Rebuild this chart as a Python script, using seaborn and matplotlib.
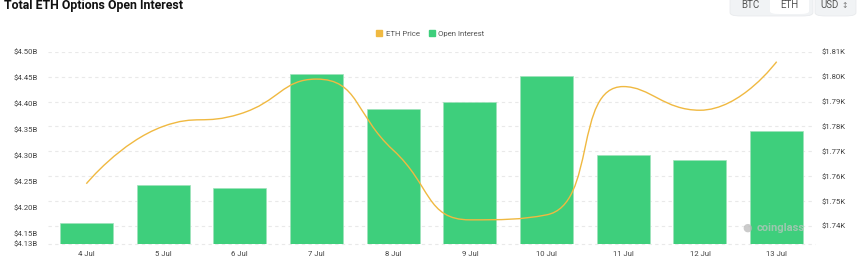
import numpy as np
import pandas as pd
import seaborn as sns
import matplotlib.pyplot as plt
from matplotlib.path import Path
from matplotlib.patches import PathPatch, Patch, FancyBboxPatch

# data
dates = ['4 Jul', '5 Jul', '6 Jul', '7 Jul', '8 Jul', '9 Jul', '10 Jul', '11 Jul', '12 Jul', '13 Jul']
open_interest_b = [4.170, 4.243, 4.238, 4.457, 4.389, 4.403, 4.454, 4.302, 4.291, 4.347]
eth_price = [1757, 1780, 1785, 1799, 1770.5, 1742.5, 1744.5, 1796, 1786.5, 1806]
left_ticks = [4.13, 4.15, 4.20, 4.25, 4.30, 4.35, 4.40, 4.45, 4.50]
right_ticks = [1740, 1750, 1760, 1770, 1780, 1790, 1800, 1810]

GREEN = '#3ecf7c'
ORANGE = '#f0b941'
TXT = '#444444'

sns.set_style('white')
plt.rcParams['font.family'] = ['Roboto', 'DejaVu Sans']

W, H = 860, 271
fig = plt.figure(figsize=(W / 100, H / 100), dpi=100)
x0, x1, y0, y1 = 48, 815, 51.7, 244
rect = [x0 / W, 1 - y1 / H, (x1 - x0) / W, (y1 - y0) / H]
ax = fig.add_axes(rect)
ax2 = ax.twinx()
ax.set_zorder(ax2.get_zorder() + 1)
ax.patch.set_visible(False)

df = pd.DataFrame({'date': dates, 'oi': open_interest_b})
sns.barplot(data=df, x='date', y='oi', color=GREEN, saturation=1, width=0.69,
            edgecolor='#9fe3bb', linewidth=0.5, ax=ax)

ax.set_ylim(4.13, 4.50)
ax.set_yticks(left_ticks)
ax.set_yticklabels([f'${t:.2f}B' for t in left_ticks])
ax.set_xlabel('')
ax.set_ylabel('')

ax2.set_ylim(1732.8, 1810)
ax2.set_yticks(right_ticks)
ax2.set_yticklabels([f'${t / 1000:.2f}K' for t in right_ticks])
ax2.yaxis.grid(True, linestyle=(0, (3, 3)), color='#e9e9e9', linewidth=0.8)
ax2.axhline(1732.8, linestyle=(0, (3, 3)), color='#e9e9e9', linewidth=0.8, clip_on=False)

for a in (ax, ax2):
    for s in a.spines.values():
        s.set_visible(False)
    a.tick_params(length=0, labelsize=5.6, colors=TXT)
ax.tick_params(axis='y', pad=7)
ax.tick_params(axis='x', pad=5)
ax2.tick_params(axis='y', pad=5)

# smooth price line: bezier with echarts-style clamped control points (pixel space)
pts = ax2.transData.transform(np.column_stack([np.arange(len(eth_price)), eth_price]))
smooth = 0.5
verts = [tuple(pts[0])]
codes = [Path.MOVETO]
cp0 = pts[0].copy()
for i in range(1, len(pts)):
    x, y = pts[i]
    px, py = pts[i - 1]
    if i == len(pts) - 1:
        cp1 = np.array([x, y])
        nxt_cp = None
    else:
        nx, ny = pts[i + 1]
        vx, vy = nx - px, ny - py
        lp = np.hypot(x - px, y - py)
        ln = np.hypot(nx - x, ny - y)
        r = ln / (ln + lp)
        ncx = x + vx * smooth * r
        ncy = y + vy * smooth * r
        ncx = min(max(ncx, min(nx, x)), max(nx, x))
        ncy = min(max(ncy, min(ny, y)), max(ny, y))
        vx, vy = ncx - x, ncy - y
        c1x = x - vx * lp / ln
        c1y = y - vy * lp / ln
        c1x = min(max(c1x, min(px, x)), max(px, x))
        c1y = min(max(c1y, min(py, y)), max(py, y))
        vx, vy = x - c1x, y - c1y
        nxt_cp = np.array([x + vx * ln / lp, y + vy * ln / lp])
        cp1 = np.array([c1x, c1y])
    verts += [tuple(cp0), tuple(cp1), (x, y)]
    codes += [Path.CURVE4] * 3
    cp0 = nxt_cp
verts = ax2.transData.inverted().transform(np.array(verts))
line = PathPatch(Path(verts, codes), facecolor='none', edgecolor=ORANGE,
                 linewidth=1.0, transform=ax2.transData, zorder=5)
ax.add_patch(line)

# legend
fig.legend(handles=[Patch(color=ORANGE, label='ETH Price'), Patch(color=GREEN, label='Open Interest')],
           loc='center', bbox_to_anchor=(430.5 / W, 1 - 33.7 / H), ncol=2, frameon=False,
           fontsize=5.6, handlelength=0.7, handleheight=0.7, handletextpad=0.5,
           columnspacing=1.2, labelcolor='#555555', borderpad=0)

# title
fig.text(4 / W, 1 - 9.2 / H, 'Total ETH Options Open Interest', fontsize=8.9,
         fontweight='bold', color='#111111', va='baseline', ha='left')

# currency toggles
fig.patches.append(FancyBboxPatch((730 / W, 1 - 16 / H), 83 / W, 24 / H,
                                  boxstyle='round,pad=0,rounding_size=0.012',
                                  transform=fig.transFigure, facecolor='#f1f3f5',
                                  edgecolor='#e6e8eb', linewidth=0.5))
fig.patches.append(FancyBboxPatch((770 / W, 1 - 14 / H), 39 / W, 20 / H,
                                  boxstyle='round,pad=0,rounding_size=0.01',
                                  transform=fig.transFigure, facecolor='white',
                                  edgecolor='none'))
fig.patches.append(FancyBboxPatch((815 / W, 1 - 16 / H), 41 / W, 24 / H,
                                  boxstyle='round,pad=0,rounding_size=0.012',
                                  transform=fig.transFigure, facecolor='#f1f3f5',
                                  edgecolor='#e6e8eb', linewidth=0.5))
fig.text(750.5 / W, 1 - 5 / H, 'BTC', fontsize=7, color='#555555', ha='center', va='center')
fig.text(789.5 / W, 1 - 5 / H, 'ETH', fontsize=7, color='#555555', ha='center', va='center')
fig.text(830 / W, 1 - 5 / H, 'USD', fontsize=7, color='#555555', ha='center', va='center')
fig.text(845 / W, 1 - 5 / H, '↕', fontsize=5.5, color='#777777', ha='center', va='center',
         family='DejaVu Sans')

# watermark
fig.text(781 / W, 1 - 228 / H, 'coinglass', fontsize=8, fontweight='bold',
         color='#c4c4c4', alpha=0.7, ha='center', va='center')
fig.text(747 / W, 1 - 228 / H, '●', fontsize=8, color='#b5b5b5', alpha=0.7,
         ha='center', va='center', family='DejaVu Sans')

fig.savefig('out.png', dpi=100)
